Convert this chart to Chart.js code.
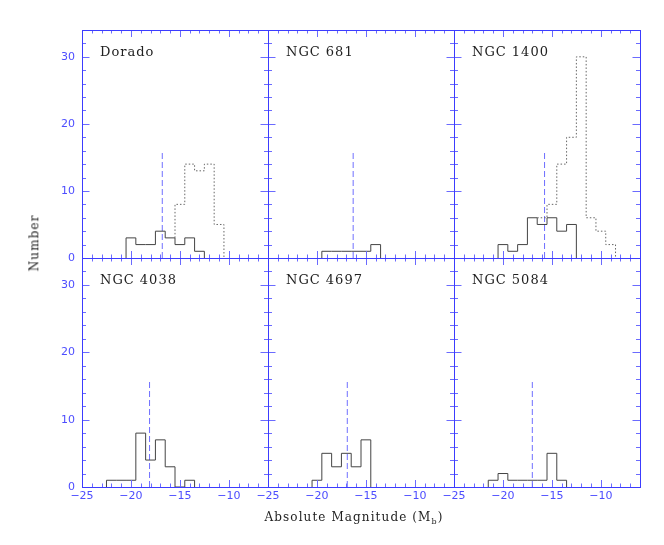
<!DOCTYPE html>
<html>
<head>
<meta charset="utf-8">
<script src="https://cdn.jsdelivr.net/npm/chart.js@4/dist/chart.umd.min.js"></script>
<style>
body { margin: 0; background: #fff; width: 664px; height: 545px; overflow: hidden; position: relative; }
canvas { position: absolute; left: 0; top: 0; }
.titel { position: absolute; color: #222; font-family: "DejaVu Serif"; font-size: 12px; letter-spacing: 1.1px; white-space: nowrap; }
</style>
</head>
<body>
<div id="grafici"></div>
<div class="titel" id="titoloX">Absolute Magnitude (M<sub style="font-size:8px">b</sub>)</div>
<div class="titel" id="titoloY">Number</div>
<script>
// dati: istogrammi con bin di 1 magnitudine
var galassie = ['Dorado', 'NGC 681', 'NGC 1400', 'NGC 4038', 'NGC 4697', 'NGC 5084'];

// istogramma continuo: primo bordo di bin e conteggi
var inizioContinuo = [-20.5, -19.5, -20.5, -22.5, -20.5, -21.5];
var conteggiContinuo = [
    [3, 2, 2, 4, 3, 2, 3, 1],
    [1, 1, 1, 1, 1, 2],
    [2, 1, 2, 6, 5, 6, 4, 5],
    [1, 1, 1, 8, 4, 7, 3, 0, 1],
    [1, 5, 3, 5, 3, 7],
    [1, 2, 1, 1, 1, 1, 5, 1]
];

// istogramma puntinato (solo Dorado e NGC 1400), parte che si stacca dal continuo
var inizioPuntinato = [-15.5, null, -16.5, null, null, null];
var basePuntinato = [3, null, 6, null, null, null];
var conteggiPuntinato = [
    [8, 14, 13, 14, 5],
    [],
    [6, 8, 14, 18, 30, 6, 4, 2],
    [],
    [],
    []
];

// linea tratteggiata verticale
var posizioneTratteggio = [-16.8, -16.3, -15.75, -18.1, -16.9, -17.0];
var altezzaTratteggio = 16;

var tickX = [-25, -20, -15, -10];
var tickY = [0, 10, 20, 30];

var sinistra = [82, 268, 454];
var alto = [30, 258];
var larghezza = 186;
var altezza = [228, 229];

function puntiIstogramma(inizio, conteggi, base) {
    var punti = [{x: inizio, y: base}];
    for (var i = 0; i < conteggi.length; i++) {
        punti.push({x: inizio + i, y: conteggi[i]});
    }
    punti.push({x: inizio + conteggi.length, y: 0});
    return punti;
}

var cornice = {
    id: 'cornice',
    afterDraw: function(chart, args, opts) {
        var ctx = chart.ctx;
        var a = chart.chartArea;
        var sx = chart.scales.x;
        var sy = chart.scales.y;
        ctx.save();
        ctx.strokeStyle = '#6b6bff';
        ctx.lineWidth = 1;
        ctx.beginPath();
        for (var v = -24; v <= -7; v++) {
            var px = Math.round(sx.getPixelForValue(v)) + 0.5;
            var l = (v % 5 === 0) ? 7 : 3.5;
            ctx.moveTo(px, a.bottom); ctx.lineTo(px, a.bottom - l);
            ctx.moveTo(px, a.top); ctx.lineTo(px, a.top + l);
        }
        for (var w = 2; w <= 34; w += 2) {
            var py = Math.round(sy.getPixelForValue(w)) + 0.5;
            var m = (w % 10 === 0) ? 7.5 : 4;
            ctx.moveTo(a.left, py); ctx.lineTo(a.left + m, py);
            ctx.moveTo(a.right, py); ctx.lineTo(a.right - m, py);
        }
        ctx.stroke();

        ctx.strokeStyle = '#3c3cff';
        ctx.strokeRect(a.left + 0.5, a.top + 0.5, a.right - a.left, a.bottom - a.top);

        ctx.fillStyle = '#4d4dff';
        ctx.font = '11px "DejaVu Sans"';
        if (opts.colonna === 0) {
            ctx.textAlign = 'right';
            ctx.textBaseline = 'middle';
            tickY.forEach(function(t) {
                ctx.fillText(String(t), a.left - 7, sy.getPixelForValue(t));
            });
        }
        if (opts.riga === 1) {
            ctx.textAlign = 'center';
            ctx.textBaseline = 'middle';
            tickX.forEach(function(t) {
                ctx.fillText('\u2212' + Math.abs(t), sx.getPixelForValue(t), a.bottom + 9);
            });
        }

        ctx.fillStyle = '#222';
        ctx.font = '13px "DejaVu Serif"';
        ctx.letterSpacing = '1px';
        ctx.textAlign = 'left';
        ctx.textBaseline = 'middle';
        ctx.fillText(opts.nome, a.left + 18, a.top + 23);
        ctx.restore();
    }
};

for (var i = 0; i < galassie.length; i++) {
    var col = i % 3;
    var riga = Math.floor(i / 3);
    var tela = document.createElement('canvas');
    tela.width = 664;
    tela.height = 545;
    document.getElementById('grafici').appendChild(tela);

    var datasets = [];
    if (inizioPuntinato[i] !== null) {
        datasets.push({
            data: puntiIstogramma(inizioPuntinato[i], conteggiPuntinato[i], basePuntinato[i]),
            borderColor: '#666',
            borderWidth: 1,
            borderDash: [1.5, 2],
            stepped: true
        });
    }
    datasets.push({
        data: puntiIstogramma(inizioContinuo[i], conteggiContinuo[i], 0),
        borderColor: '#444',
        borderWidth: 1,
        stepped: true
    });
    datasets.push({
        data: [{x: posizioneTratteggio[i], y: 0}, {x: posizioneTratteggio[i], y: altezzaTratteggio}],
        borderColor: '#6f6fff',
        borderWidth: 1,
        borderDash: [6, 3]
    });

    new Chart(tela, {
        type: 'line',
        data: {datasets: datasets},
        options: {
            responsive: false,
            animation: false,
            events: [],
            layout: {
                padding: {
                    left: sinistra[col],
                    top: alto[riga],
                    right: 664 - sinistra[col] - larghezza,
                    bottom: 545 - alto[riga] - altezza[riga]
                }
            },
            elements: {point: {radius: 0}},
            plugins: {
                legend: {display: false},
                tooltip: {enabled: false},
                cornice: {nome: galassie[i], colonna: col, riga: riga}
            },
            scales: {
                x: {type: 'linear', min: -25, max: -6, display: false},
                y: {type: 'linear', min: 0, max: 34, display: false}
            }
        },
        plugins: [cornice]
    });
}

var tx = document.getElementById('titoloX');
tx.style.left = (354 - tx.offsetWidth / 2) + 'px';
tx.style.top = (518 - tx.offsetHeight / 2) + 'px';
var ty = document.getElementById('titoloY');
ty.style.left = (34 - ty.offsetWidth / 2) + 'px';
ty.style.top = (243 - ty.offsetHeight / 2) + 'px';
ty.style.transform = 'rotate(-90deg)';
</script>
</body>
</html>
